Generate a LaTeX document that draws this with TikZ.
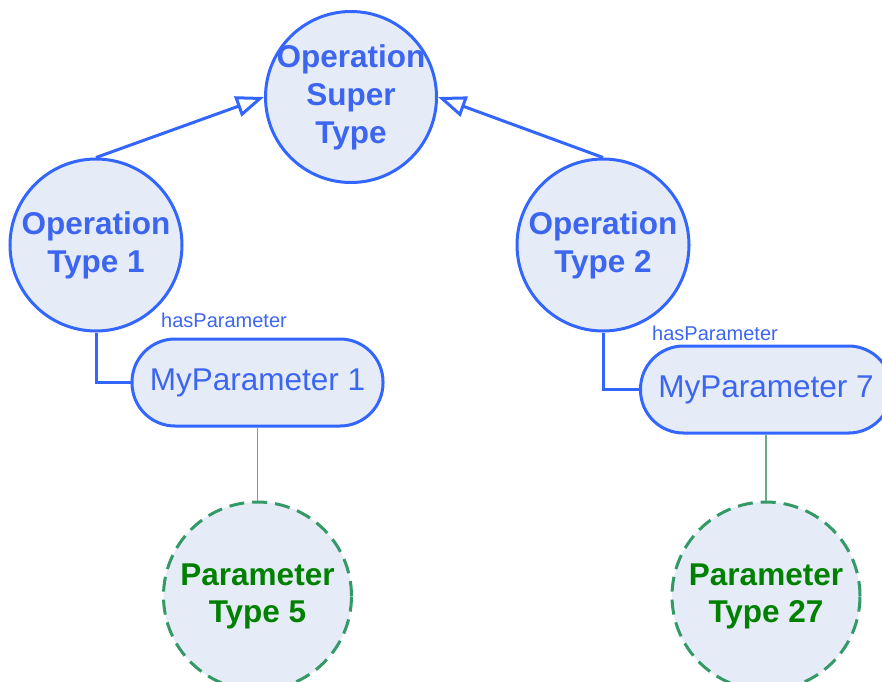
\documentclass[tikz,border=0pt]{standalone}
\usepackage{fontspec}
\setmainfont{Liberation Sans}
\usetikzlibrary{arrows.meta}
\definecolor{opblue}{HTML}{3366FF}
\definecolor{optext}{HTML}{3D66F0}
\definecolor{nodefill}{HTML}{E6ECF7}
\definecolor{dashgreen}{HTML}{339966}
\definecolor{thingreen}{HTML}{66AA88}
\definecolor{textgreen}{HTML}{008000}
\tikzset{
  opcircle/.style={circle, draw=opblue, line width=3pt, fill=nodefill, minimum size=172pt, inner sep=-20pt, align=center, text=optext, font=\bfseries\fontsize{31.5}{38}\selectfont},
  parambox/.style={rectangle, rounded corners=43pt, draw=opblue, line width=3pt, fill=nodefill, minimum width=251pt, minimum height=87pt, inner sep=0pt, text=optext, font=\fontsize{31.5}{38}\selectfont},
  ptcircle/.style={circle, draw=dashgreen, line width=3pt, dash pattern=on 15pt off 8pt, fill=nodefill, minimum size=188pt, inner sep=-10pt, align=center, text=textgreen, font=\bfseries\fontsize{31.5}{37}\selectfont},
  inherit/.style={draw=opblue, line width=3pt, -{Triangle[open, length=28pt, width=21pt, fill=white]}},
  hasparam/.style={draw=opblue, line width=3pt},
  typelink/.style={draw=thingreen, line width=1.2pt},
  edgelabel/.style={text=optext, font=\fontsize{20}{24}\selectfont, inner sep=0pt}
}
\begin{document}
\begin{tikzpicture}[x=1pt, y=-1pt]
\useasboundingbox (0,0) rectangle (882,681);
\node[opcircle, minimum size=171pt] (super) at (351,97) {Operation\\Super\\Type};
\node[opcircle] (op1) at (96,245) {Operation\\Type 1};
\node[opcircle] (op2) at (603,245) {Operation\\Type 2};
\node[parambox] (mp1) at (257.5,382.5) {MyParameter 1};
\node[parambox] (mp7) at (766,389.5) {MyParameter 7};
\node[ptcircle] (pt5) at (257.5,596) {Parameter\\Type 5};
\node[ptcircle] (pt27) at (766,596) {Parameter\\Type 27};
\draw[inherit] (op1.north) -- (super.west);
\draw[inherit] (op2.north) -- (super.east);
\draw[hasparam] (op1.south) |- (mp1.west);
\draw[hasparam] (op2.south) |- (mp7.west);
\node[edgelabel] (lab1) at (224,320) {hasParameter};
\node[edgelabel] (lab2) at (715,333) {hasParameter};
\draw[typelink] (mp1.south) -- (pt5.north);
\draw[typelink] (mp7.south) -- (pt27.north);
\end{tikzpicture}
\end{document}
